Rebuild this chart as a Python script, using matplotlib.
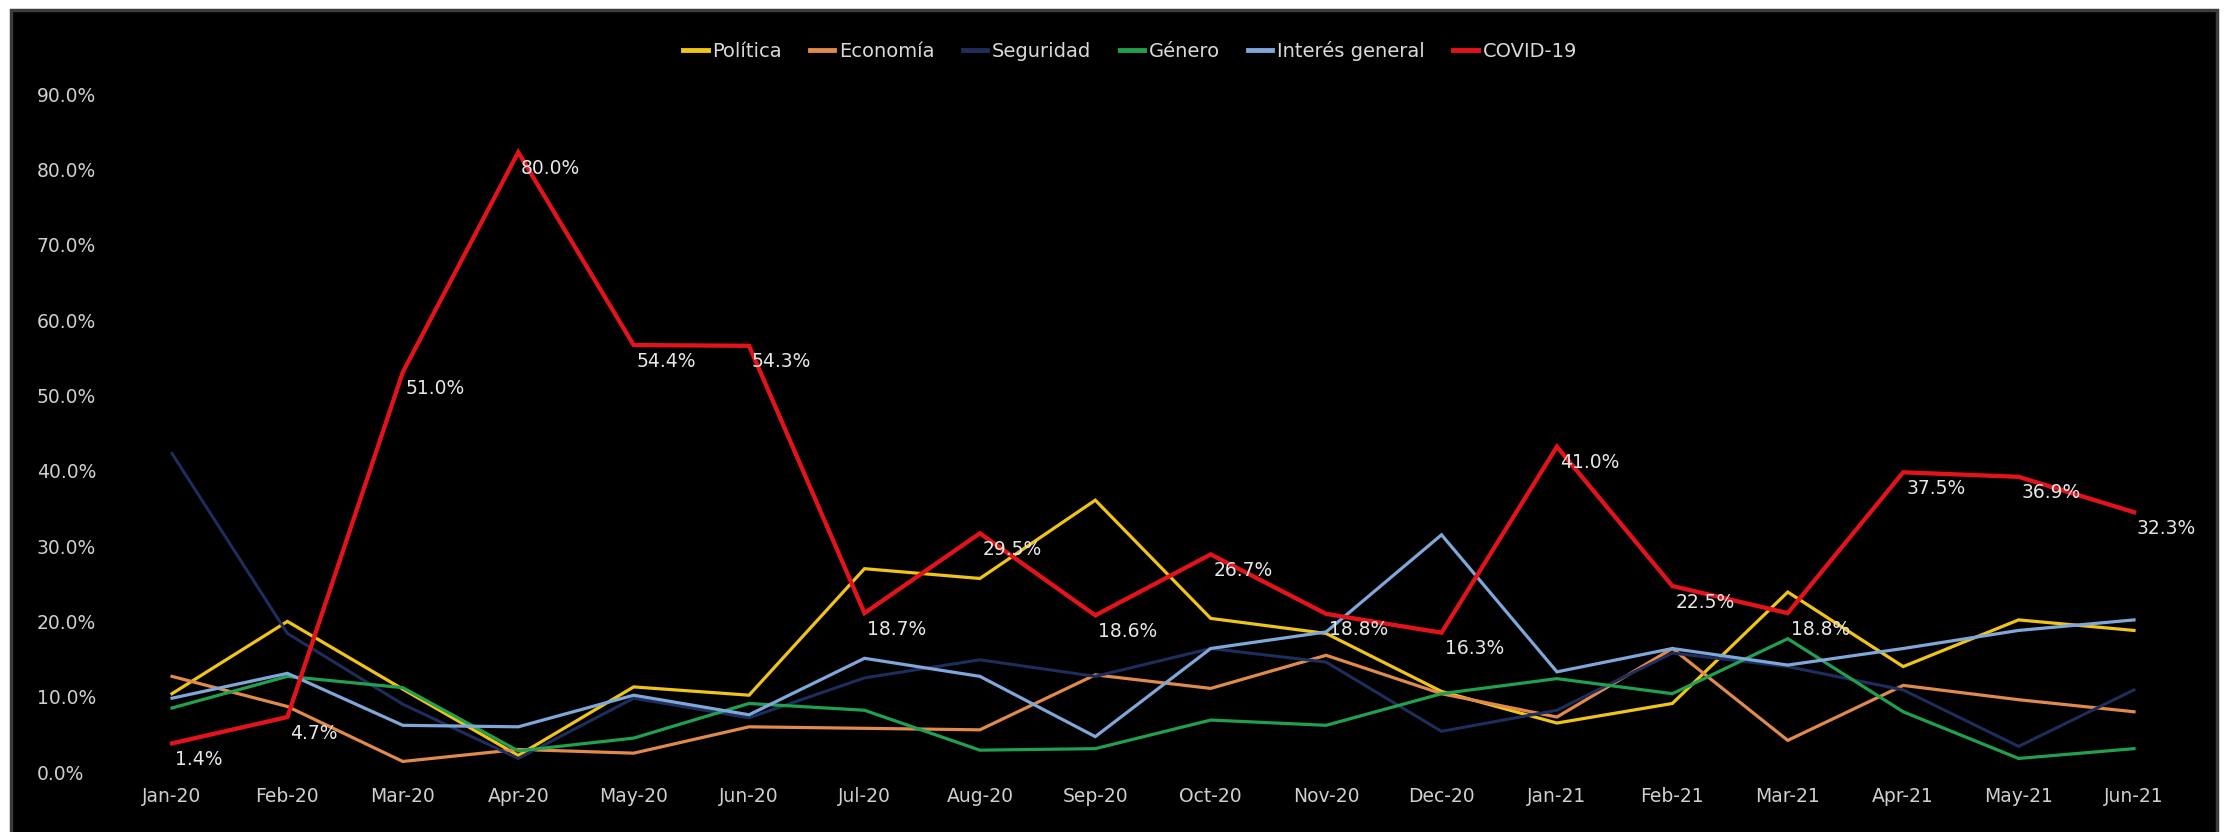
import matplotlib
matplotlib.use("Agg")
import matplotlib.pyplot as plt
from matplotlib.patches import Rectangle

months = ['Jan-20', 'Feb-20', 'Mar-20', 'Apr-20', 'May-20', 'Jun-20', 'Jul-20', 'Aug-20', 'Sep-20',
          'Oct-20', 'Nov-20', 'Dec-20', 'Jan-21', 'Feb-21', 'Mar-21', 'Apr-21', 'May-21', 'Jun-21']

politica = [10.4, 20.0, 11.0, 2.2, 11.3, 10.2, 27.0, 25.7, 36.1, 20.4, 18.4, 10.7, 6.5, 9.1, 23.9, 14.0, 20.2, 18.8]
economia = [12.7, 8.7, 1.4, 3.0, 2.5, 6.0, 5.8, 5.6, 12.9, 11.1, 15.5, 10.4, 7.3, 16.4, 4.2, 11.5, 9.6, 8.0]
seguridad = [42.3, 18.4, 9.0, 1.8, 9.8, 7.2, 12.5, 14.9, 12.7, 16.4, 14.6, 5.4, 8.2, 15.8, 14.0, 10.9, 3.4, 10.9]
genero = [8.5, 12.7, 11.2, 2.8, 4.5, 9.1, 8.2, 2.9, 3.1, 6.9, 6.2, 10.4, 12.4, 10.4, 17.7, 8.0, 1.8, 3.1]
interes = [9.8, 13.1, 6.2, 6.0, 10.2, 7.6, 15.1, 12.7, 4.7, 16.4, 18.6, 31.5, 13.3, 16.4, 14.2, 16.4, 18.8, 20.2]
covid = [3.8, 7.3, 53.1, 82.3, 56.7, 56.6, 21.1, 31.7, 20.8, 28.9, 21.0, 18.5, 43.2, 24.7, 21.1, 39.8, 39.2, 34.5]
covid_labels = ['1.4%', '4.7%', '51.0%', '80.0%', '54.4%', '54.3%', '18.7%', '29.5%', '18.6%',
                '26.7%', '18.8%', '16.3%', '41.0%', '22.5%', '18.8%', '37.5%', '36.9%', '32.3%']

series_names = ['Política', 'Economía', 'Seguridad', 'Género', 'Interés general', 'COVID-19']
series_values = [politica, economia, seguridad, genero, interes, covid]
series_colors = ['#F0C419', '#E08A4C', '#1F2D5C', '#21A04F', '#7FA7D9', '#E3131B']
series_widths = [2.3, 2.3, 2.2, 2.3, 2.3, 3.1]
y_ticks = [0, 10, 20, 30, 40, 50, 60, 70, 80, 90]

W, H, DPI = 2234, 832, 100
fig = plt.figure(figsize=(W / DPI, H / DPI), dpi=DPI, facecolor='white')

# black chart area with grey frame
fig.patches.append(Rectangle((11 / W, -0.01), (2217 - 11) / W, (H - 10) / H + 0.01,
                             transform=fig.transFigure, facecolor='black',
                             edgecolor='#3c3c3c', linewidth=2.5, zorder=-10))

left_px, right_px, bottom_px, top_px = 100, 2200, 50, 800
ax = fig.add_axes([left_px / W, bottom_px / H, (right_px - left_px) / W, (top_px - bottom_px) / H])
ax.set_facecolor('none')
ax.set_zorder(5)

x = list(range(len(months)))
x0_px, x17_px = 172, 2134
ppu = (x17_px - x0_px) / 17
ax.set_xlim((left_px - x0_px) / ppu, (right_px - x0_px) / ppu)
y0_px = H - 772
ppy = 7.53
ax.set_ylim((bottom_px - y0_px) / ppy, (top_px - y0_px) / ppy)

lines = []
for name, vals, col, lw in zip(series_names, series_values, series_colors, series_widths):
    ln, = ax.plot(x, vals, color=col, linewidth=lw, label=name, clip_on=False,
                  solid_joinstyle='miter')
    lines.append(ln)

for xi, yi, lab in zip(x, covid, covid_labels):
    ax.annotate(lab, (xi, yi), xytext=(3, -16), textcoords='offset pixels',
                ha='left', va='center', color='#E6E6E6', fontsize=13.5)

for s in ax.spines.values():
    s.set_visible(False)
ax.set_xticks(x)
ax.set_xticklabels(months)
ax.set_yticks(y_ticks)
ax.set_yticklabels([f'{v:.1f}%' for v in y_ticks])
ax.tick_params(axis='both', length=0, colors='#CFCFCF', labelsize=13.5)
ax.tick_params(axis='x', pad=5 * 72 / DPI)
ax.tick_params(axis='y', pad=(left_px - 37) * 72 / DPI)
for t in ax.get_yticklabels():
    t.set_horizontalalignment('left')

leg = fig.legend(handles=lines, labels=series_names, loc='center', ncol=6,
                 bbox_to_anchor=(1130 / W, 1 - 51 / H), frameon=False,
                 fontsize=14, labelcolor='#D9D9D9', handlelength=1.25,
                 handletextpad=0.25, columnspacing=1.45)
for h in leg.legend_handles:
    h.set_linewidth(3.5)

fig.savefig('out.png', dpi=DPI, facecolor='white')
